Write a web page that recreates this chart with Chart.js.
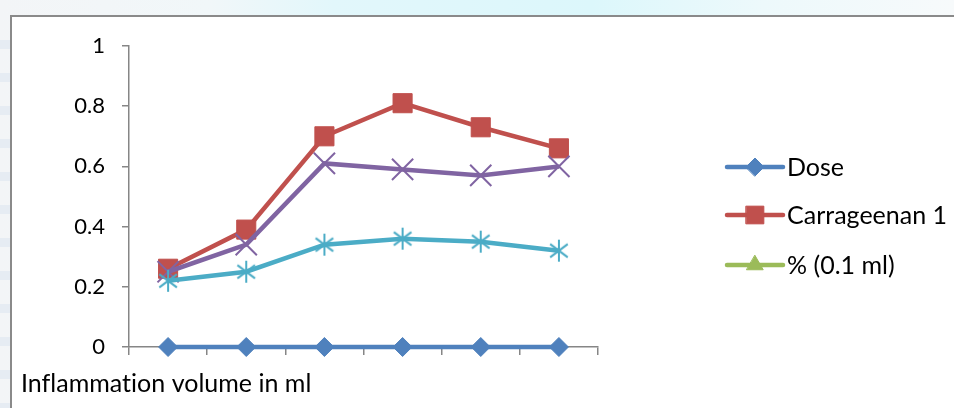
<!DOCTYPE html>
<html>
<head>
<meta charset="utf-8">
<script src="https://cdn.jsdelivr.net/npm/chart.js@4.4.1/dist/chart.umd.min.js"></script>
<style>
  html, body { margin: 0; padding: 0; background: #ffffff; }
  #wrap { width: 954px; height: 408px; }
</style>
</head>
<body>
<div id="wrap"><canvas id="c" width="954" height="408"></canvas></div>
<script>
// Time points along the x axis (no labels are printed under the ticks)
const categories = ['1', '2', '3', '4', '5', '6'];

// Series values (inflammation volume, ml)
const doseValues = [0, 0, 0, 0, 0, 0];
const carrageenanValues = [0.26, 0.39, 0.70, 0.81, 0.73, 0.66];
const percentValues = [null, null, null, null, null, null];
const group4Values = [0.25, 0.34, 0.61, 0.59, 0.57, 0.60];
const group5Values = [0.22, 0.25, 0.34, 0.36, 0.35, 0.32];

// Y axis tick labels
const yTickLabels = ['0', '0.2', '0.4', '0.6', '0.8', '1'];

const seriesNames = ['Dose', 'Carrageenan 1', '% (0.1 ml)', 'Group 4', 'Group 5'];
const axisCaption = 'Inflammation volume in ml';

const FONT = 'Lato, "Liberation Sans", sans-serif';

// Asterisk marker: vertical stroke plus two diagonals
function makeAsterisk(color, r, lw) {
  const s = Math.ceil(2 * r + lw + 2);
  const cv = document.createElement('canvas');
  cv.width = s; cv.height = s;
  const g = cv.getContext('2d');
  const c = s / 2;
  g.strokeStyle = color;
  g.lineWidth = lw;
  g.beginPath();
  g.moveTo(c, c - r); g.lineTo(c, c + r);
  const d = r * 0.8;
  g.moveTo(c - d, c - d * 0.75); g.lineTo(c + d, c + d * 0.75);
  g.moveTo(c - d, c + d * 0.75); g.lineTo(c + d, c - d * 0.75);
  g.stroke();
  return cv;
}

const BLUE = '#4F81BD', RED = '#C0504D', GREEN = '#9BBB59', PURPLE = '#8064A2', CYAN = '#4BACC6';

const datasets = [
  { label: seriesNames[0], data: doseValues, borderColor: BLUE, backgroundColor: BLUE,
    pointStyle: 'rectRot', pointRadius: 9.5, pointBorderWidth: 1, order: 5 },
  { label: seriesNames[1], data: carrageenanValues, borderColor: RED, backgroundColor: RED,
    pointStyle: 'rect', pointRadius: 13.5, pointBorderWidth: 1, order: 4 },
  { label: seriesNames[2], data: percentValues, borderColor: GREEN, backgroundColor: GREEN,
    pointStyle: 'triangle', pointRadius: 10, pointBorderWidth: 1, order: 3 },
  { label: seriesNames[3], data: group4Values, borderColor: PURPLE, backgroundColor: PURPLE,
    pointStyle: 'crossRot', pointRadius: 15, pointBorderWidth: 2, order: 2 },
  { label: seriesNames[4], data: group5Values, borderColor: CYAN, backgroundColor: CYAN,
    pointStyle: makeAsterisk(CYAN, 11, 2), pointRadius: 11, order: 1 }
].map(ds => Object.assign({
  borderWidth: 4.5,
  tension: 0,
  fill: false,
  clip: false,
  pointHoverRadius: ds.pointRadius,
  spanGaps: false
}, ds));

// Page backdrop, white chart box, caption and side legend
const framePlugin = {
  id: 'frame',
  beforeDraw(chart) {
    const ctx = chart.ctx;
    const W = chart.width, H = chart.height;
    ctx.save();
    const g = ctx.createLinearGradient(0, 0, W, 0);
    g.addColorStop(0, '#f3f5f7');
    g.addColorStop(0.22, '#f1f7f9');
    g.addColorStop(0.35, '#e2f7fb');
    g.addColorStop(0.62, '#dcf7fb');
    g.addColorStop(0.8, '#edf9fb');
    g.addColorStop(1, '#f7fafb');
    ctx.fillStyle = g;
    ctx.fillRect(0, 0, W, H);
    // faint horizontal streaks down the left margin
    ctx.fillStyle = '#e6ecf3';
    for (let y = 40; y < H; y += 33) ctx.fillRect(0, y, 11, 9);
    ctx.fillStyle = '#ffffff';
    ctx.fillRect(11, 16, W, H);
    ctx.strokeStyle = '#8a8a8a';
    ctx.lineWidth = 2;
    ctx.beginPath();
    ctx.moveTo(11, H + 2); ctx.lineTo(11, 16); ctx.lineTo(W + 2, 16);
    ctx.stroke();
    ctx.restore();
  },
  afterDraw(chart) {
    const ctx = chart.ctx;
    ctx.save();
    if ('letterSpacing' in ctx) ctx.letterSpacing = '0.01px';
    ctx.fillStyle = '#000000';
    ctx.font = '25px ' + FONT;
    ctx.textBaseline = 'alphabetic';
    ctx.textAlign = 'left';
    ctx.fillText(axisCaption, 21, 392);

    // legend: first three series, line with centred marker
    const legendY = [167, 215, 265];
    const x0 = 727, x1 = 783, xm = 755;
    const legendRadius = [9, 12.5, 9.5];
    for (let i = 0; i < 3; i++) {
      const ds = chart.data.datasets[i];
      const y = legendY[i];
      ctx.strokeStyle = ds.borderColor;
      ctx.lineWidth = 4.5;
      ctx.lineCap = 'round';
      ctx.beginPath();
      ctx.moveTo(x0, y); ctx.lineTo(x1, y);
      ctx.stroke();
      ctx.fillStyle = ds.backgroundColor;
      ctx.lineWidth = 1;
      Chart.helpers.drawPoint(ctx, { pointStyle: ds.pointStyle, radius: legendRadius[i], rotation: 0, borderWidth: 1 }, xm, y);
      ctx.fillStyle = '#000000';
      ctx.fillText(ds.label, 787, y + 8.5);
    }
    ctx.restore();
  }
};

new Chart(document.getElementById('c'), {
  type: 'line',
  data: { labels: categories, datasets },
  plugins: [framePlugin],
  options: {
    responsive: false,
    devicePixelRatio: 1,
    animation: false,
    events: [],
    layout: { padding: { left: 11, top: 46, right: 356, bottom: 53 } },
    plugins: { legend: { display: false }, tooltip: { enabled: false } },
    scales: {
      x: {
        type: 'category',
        offset: true,
        border: { display: true, color: '#868686', width: 1.5 },
        grid: { display: true, offset: true, drawOnChartArea: false, drawTicks: true, tickLength: 8, color: '#868686', lineWidth: 1.5 },
        ticks: { display: false },
        afterFit(scale) { scale.height = 8; }
      },
      y: {
        min: 0,
        max: 1,
        border: { display: true, color: '#868686', width: 1.5 },
        grid: { display: true, drawOnChartArea: false, drawTicks: true, tickLength: 7, color: '#868686', lineWidth: 1.5 },
        ticks: {
          stepSize: 0.2,
          padding: 17,
          color: '#000000',
          font: { family: FONT, size: 22 },
          callback(value, index) { return yTickLabels[index]; }
        },
        afterFit(scale) { scale.width = 118; }
      }
    }
  }
});
</script>
</body>
</html>
